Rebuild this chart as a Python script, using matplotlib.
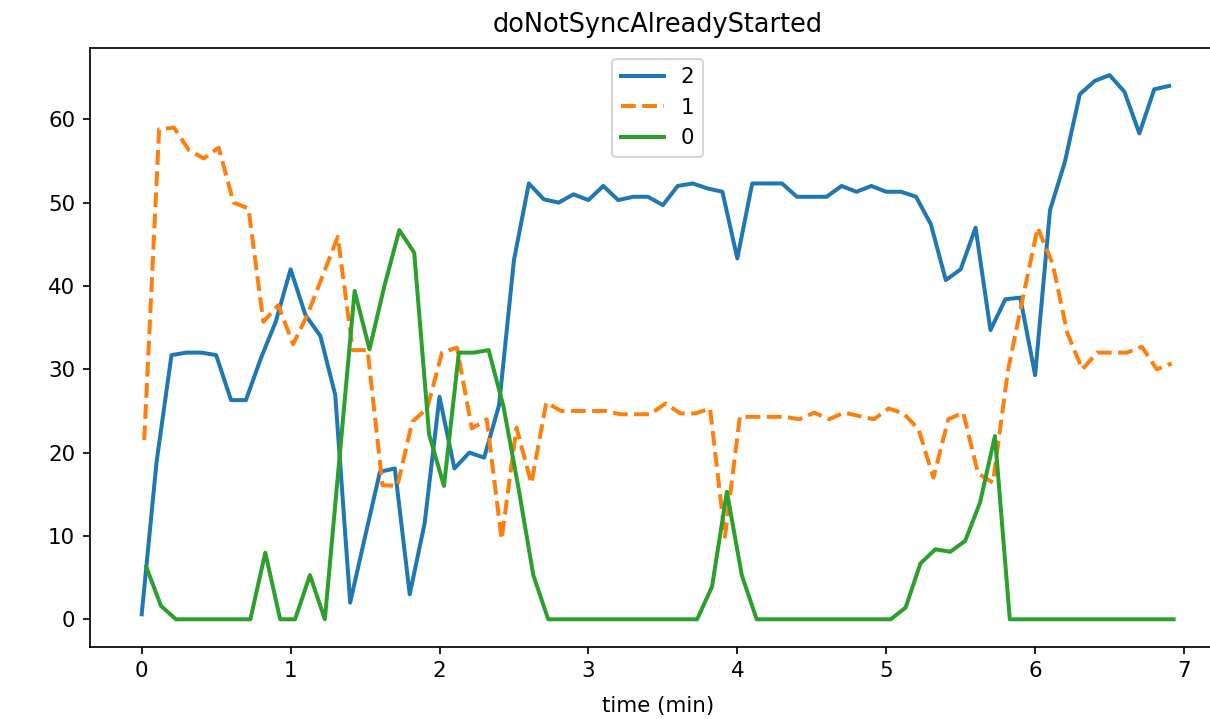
import numpy as np
import matplotlib
matplotlib.use("Agg")
import matplotlib.pyplot as plt

n = 70
step = 0.1
time_2 = np.arange(n) * step
time_1 = np.arange(n) * step + 0.017
time_0 = np.arange(n) * step + 0.03

series_2 = [0.6, 18.9, 31.7, 32.0, 32.0, 31.7, 26.3, 26.3, 31.3, 35.7,
            42.0, 36.5, 34.0, 26.9, 2.0, 9.9, 17.7, 18.1, 3.0, 11.5,
            26.7, 18.1, 20.0, 19.4, 25.7, 43.1, 52.3, 50.4, 50.0, 51.0,
            50.3, 52.0, 50.3, 50.7, 50.7, 49.7, 52.0, 52.3, 51.7, 51.3,
            43.3, 52.3, 52.3, 52.3, 50.7, 50.7, 50.7, 52.0, 51.3, 52.0,
            51.3, 51.3, 50.7, 47.4, 40.7, 42.0, 47.0, 34.7, 38.4, 38.6,
            29.3, 49.1, 54.9, 63.0, 64.6, 65.3, 63.3, 58.3, 63.6, 64.0]

series_1 = [21.5, 58.8, 59.0, 56.3, 55.3, 56.6, 50.0, 49.3, 35.7, 37.7,
            33.0, 36.7, 41.3, 45.9, 32.3, 32.3, 16.1, 16.0, 23.7, 25.3,
            32.0, 32.6, 22.9, 24.0, 9.6, 23.0, 16.3, 26.0, 25.0, 25.0,
            25.0, 25.0, 24.6, 24.6, 24.6, 25.9, 24.7, 24.7, 25.3, 9.9,
            24.3, 24.3, 24.3, 24.3, 24.0, 24.8, 24.0, 24.8, 24.4, 24.0,
            25.3, 24.7, 22.8, 17.0, 24.0, 24.8, 17.5, 16.4, 29.8, 38.5,
            47.0, 42.7, 34.3, 30.0, 32.0, 32.0, 32.0, 32.7, 30.0, 30.7]

series_0 = [6.3, 1.6, 0, 0, 0, 0, 0, 0, 8.0, 0,
            0, 5.3, 0, 19.7, 39.4, 32.4, 40.0, 46.7, 44.0, 22.2,
            16.0, 32.0, 32.0, 32.3, 25.5, 15.8, 5.3, 0, 0, 0,
            0, 0, 0, 0, 0, 0, 0, 0, 3.9, 15.3,
            5.3, 0, 0, 0, 0, 0, 0, 0, 0, 0,
            0, 1.4, 6.7, 8.4, 8.1, 9.4, 14.0, 22.0, 0, 0,
            0, 0, 0, 0, 0, 0, 0, 0, 0, 0]

labels = ["2", "1", "0"]
title = "doNotSyncAlreadyStarted"
xlabel = "time (min)"

W, H, DPI = 1210, 719, 153.6
LW = 2 * 144 / DPI
fig = plt.figure(figsize=(W / DPI, H / DPI), dpi=DPI)
left, right, top, bottom = 90.1, 1225.2, 47.9, 646.5
ax = fig.add_axes([left / W, 1 - bottom / H, (right - left) / W, (bottom - top) / H])

ax.plot(time_2, series_2, color="C0", lw=LW, ls="-", label=labels[0])
ax.plot(time_1, series_1, color="C1", lw=LW, ls="--", label=labels[1])
ax.plot(time_0, series_0, color="C2", lw=LW, ls="-", label=labels[2])

ax.set_title(title, pad=7.5)
ax.set_xlabel(xlabel, labelpad=7)
ax.legend(loc="upper center")

fig.savefig("out.png", dpi=DPI)
